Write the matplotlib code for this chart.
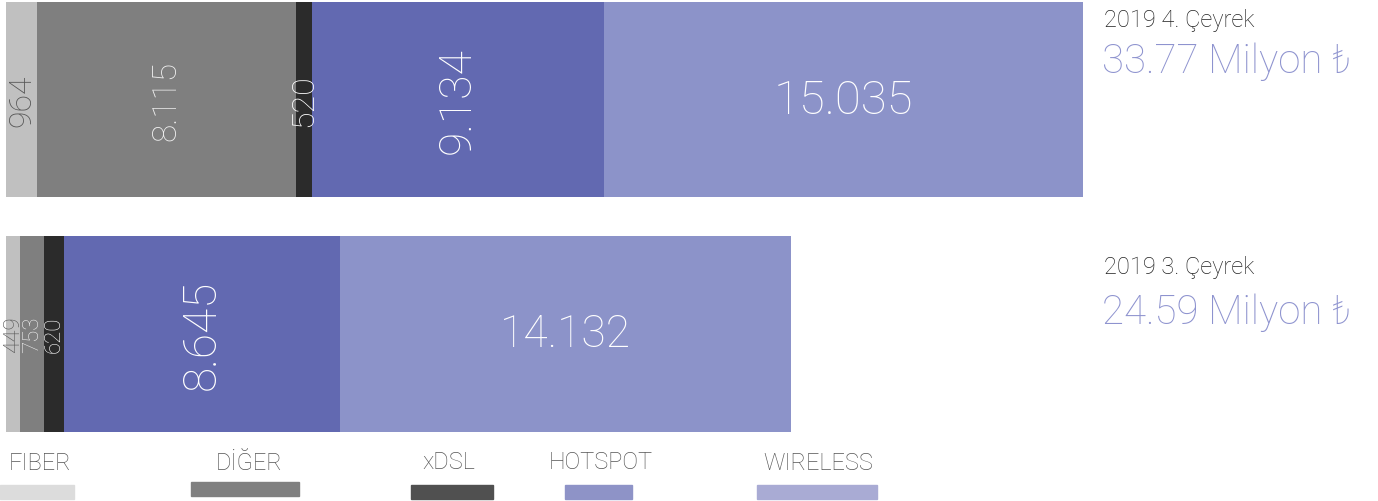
import matplotlib
matplotlib.use('Agg')
import matplotlib.pyplot as plt
from matplotlib.patches import Rectangle

## Data (bin ₺ -> milyon)
segments = ['FIBER', 'DİĞER', 'xDSL', 'HOTSPOT', 'WIRELESS']
q4_vals = [0.964, 8.115, 0.520, 9.134, 15.035]
q3_vals = [0.449, 0.753, 0.620, 8.645, 14.132]
q4_labels = ['964', '8.115', '520', '9.134', '15.035']
q3_labels = ['449', '753', '620', '8.645', '14.132']
period_names = ['2019 4. Çeyrek', '2019 3. Çeyrek']
period_totals = ['33.77 Milyon ₺', '24.59 Milyon ₺']

## Styles
bar_colors = ['#c0c0c0', '#7f7f7f', '#2b2b2b', '#6269b1', '#8c93c9']
legend_colors = ['#dcdcdc', '#808080', '#505050', '#8e93c7', '#a9abd4']
q4_text = [('#555555', 23, 90), ('#f0f0f0', 24, 90), ('#ffffff', 23, 90),
           ('#ffffff', 32, 90), ('#ffffff', 34, 0)]
q3_text = [('#555555', 16, 90), ('#eeeeee', 16, 90), ('#ffffff', 16, 90),
           ('#ffffff', 33, 90), ('#ffffff', 32, 0)]
FONT = ['Roboto', 'DejaVu Sans']
plt.rcParams['font.family'] = FONT

W, H = 1378, 502
px_per_unit = 31.9
fig = plt.figure(figsize=(W / 100, H / 100), dpi=100)
ax = fig.add_axes([0, 0, 1, 1])
ax.set_xlim(-6 / px_per_unit, (W - 6) / px_per_unit)
ax.set_ylim(H, 0)
ax.axis('off')

rows = [(100.5, 195, q4_vals, q4_labels, q4_text),
        (335.0, 196, q3_vals, q3_labels, q3_text)]
for yc, h, vals, labels, styles in rows:
    left = 0.0
    for v, lab, c, (tc, fs, rot) in zip(vals, labels, bar_colors, styles):
        ax.barh(yc, v, left=left, height=h, color=c, edgecolor='none')
        ax.text(left + v / 2, yc, lab, color=tc, fontsize=fs, rotation=rot,
                ha='center', va='center', fontweight='light',
                rotation_mode='anchor')
        left += v

# period titles on the right
title_y = [20, 268]
total_y = [62, 313]
for name, tot, ty, vy in zip(period_names, period_totals, title_y, total_y):
    fig.text(1104 / W, 1 - ty / H, name, fontsize=17, color='#222222',
             ha='left', va='center', fontweight='light')
    fig.text(1102 / W, 1 - vy / H, tot, fontsize=29, color='#8e93cf',
             ha='left', va='center', fontweight='light')

# legend
leg_text_x = [40, 249, 449, 601, 818]
leg_box = [(0, 486, 74), (191, 483, 108), (411, 486, 82),
           (565, 486, 67), (757, 486, 120)]
for name, col, tx, (bx, by, bw) in zip(segments, legend_colors, leg_text_x, leg_box):
    fig.text(tx / W, 1 - 463 / H, name, fontsize=17, color='#555555',
             ha='center', va='center', fontweight='light')
    fig.patches.append(Rectangle((bx / W, 1 - (by + 14) / H), bw / W, 14 / H,
                                 transform=fig.transFigure, color=col))

fig.savefig('out.png', dpi=100)
